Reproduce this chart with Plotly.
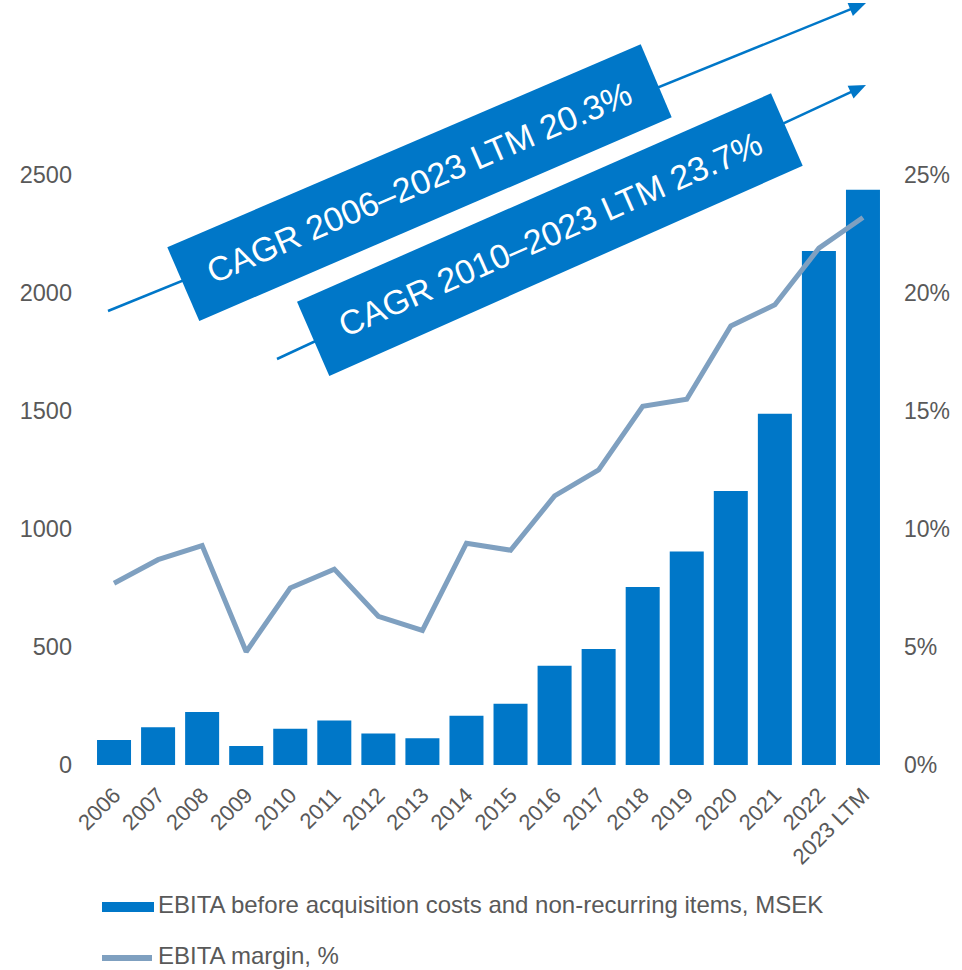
import math
import plotly.graph_objects as go

# ---- data ----
years = ["2006", "2007", "2008", "2009", "2010", "2011", "2012", "2013", "2014",
         "2015", "2016", "2017", "2018", "2019", "2020", "2021", "2022", "2023 LTM"]
ebita = [106, 160, 225, 80, 154, 189, 134, 113, 209,
         260, 421, 491, 754, 905, 1161, 1488, 2178, 2437]
margin_pct = [7.7, 8.7, 9.3, 4.8, 7.5, 8.3, 6.3, 5.7, 9.4,
              9.1, 11.4, 12.5, 15.2, 15.5, 18.6, 19.5, 21.9, 23.2]
left_ticks = [0, 500, 1000, 1500, 2000, 2500]
right_ticks = [0, 5, 10, 15, 20, 25]
bar_name = "EBITA before acquisition costs and non-recurring items, MSEK"
line_name = "EBITA margin, %"
cagr_texts = ["CAGR 2006\u20132023 LTM 20.3%", "CAGR 2010\u20132023 LTM 23.7%"]

# ---- style ----
W, H = 962, 970
L, R, T, B = 92, 77, 175, 205
BLUE = "#0077C8"
LINEC = "#7FA0C0"
GREY = "#595959"
FONT = "Arial, Liberation Sans, sans-serif"

pw, ph = W - L - R, H - T - B


def p(x, y):
    return (x - L) / pw, (H - B - y) / ph


fig = go.Figure()
fig.add_trace(go.Bar(x=years, y=ebita, name=bar_name, marker=dict(color=BLUE, line=dict(width=0)),
                     yaxis="y", showlegend=False))
fig.add_trace(go.Scatter(x=years, y=margin_pct, name=line_name, mode="lines",
                         line=dict(color=LINEC, width=5), yaxis="y2", showlegend=False))

shapes = []
annotations = []

# arrows (drawn first so boxes cover them)
arrows = [((108, 311), (866, 3)), ((277, 359), (866, 85))]
for (x0, y0), (x1, y1) in arrows:
    dx, dy = x1 - x0, y1 - y0
    n = math.hypot(dx, dy)
    ux, uy = dx / n, dy / n
    hl, hw = 17, 7
    bx, by = x1 - ux * hl, y1 - uy * hl
    a = p(x0, y0)
    b = p(bx + ux * 2, by + uy * 2)
    shapes.append(dict(type="line", xref="paper", yref="paper", x0=a[0], y0=a[1], x1=b[0], y1=b[1],
                       line=dict(color=BLUE, width=2.5)))
    pts = [(x1, y1), (bx - uy * hw, by + ux * hw), (bx + uy * hw, by - ux * hw)]
    path = "M " + " L ".join(f"{p(*q)[0]:.5f},{p(*q)[1]:.5f}" for q in pts) + " Z"
    shapes.append(dict(type="path", xref="paper", yref="paper", path=path,
                       fillcolor=BLUE, line=dict(width=0)))

boxes = [
    [(167.3, 247.3), (640.7, 44.3), (671.7, 117.3), (199.3, 321)],
    [(297, 301.7), (771, 93.3), (802.7, 165.7), (329.3, 376)],
]
angles = [-23.3, -23.8]
for i, corners in enumerate(boxes):
    path = "M " + " L ".join(f"{p(*q)[0]:.5f},{p(*q)[1]:.5f}" for q in corners) + " Z"
    shapes.append(dict(type="path", xref="paper", yref="paper", path=path,
                       fillcolor=BLUE, line=dict(width=0)))
    cx = sum(c[0] for c in corners) / 4
    cy = sum(c[1] for c in corners) / 4
    px_, py_ = p(cx, cy)
    annotations.append(dict(x=px_, y=py_, xref="paper", yref="paper", text=cagr_texts[i],
                            showarrow=False, textangle=angles[i], xanchor="center", yanchor="middle",
                            font=dict(family=FONT, size=34, color="white")))

# manual legend
r0 = p(102, 902)
r1 = p(154, 912)
shapes.append(dict(type="rect", xref="paper", yref="paper", x0=r0[0], y0=r0[1], x1=r1[0], y1=r1[1],
                   fillcolor=BLUE, line=dict(width=0)))
l0 = p(102, 958)
l1 = p(152, 958)
shapes.append(dict(type="line", xref="paper", yref="paper", x0=l0[0], y0=l0[1], x1=l1[0], y1=l1[1],
                   line=dict(color=LINEC, width=6)))
for txt, yy in [(bar_name, 904), (line_name, 955)]:
    q = p(156, yy)
    annotations.append(dict(x=q[0], y=q[1], xref="paper", yref="paper", text=txt, showarrow=False,
                            xanchor="left", yanchor="middle", font=dict(family=FONT, size=24, color=GREY)))

fig.update_layout(
    width=W, height=H,
    margin=dict(l=L, r=R, t=T, b=B),
    paper_bgcolor="white", plot_bgcolor="white",
    font=dict(family=FONT, color=GREY, size=22),
    bargap=0.228,
    xaxis=dict(type="category", tickangle=-45, tickfont=dict(size=22, color=GREY),
               showgrid=False, showline=False, zeroline=False, ticks="", ticklabelstandoff=12),
    yaxis=dict(range=[0, 2500], tickvals=left_ticks, showgrid=False, zeroline=False, showline=False,
               ticks="", tickfont=dict(size=23.5, color=GREY), ticklabelstandoff=19),
    yaxis2=dict(range=[0, 25], tickvals=right_ticks, ticktext=[f"{v}%" for v in right_ticks],
                overlaying="y", side="right", showgrid=False, zeroline=False, showline=False,
                ticks="", tickfont=dict(size=23, color=GREY), ticklabelstandoff=18),
    shapes=shapes,
    annotations=annotations,
)

fig.write_html("out.html", config={"displayModeBar": False},
               post_script="document.body.style.margin='0';document.body.style.overflow='hidden';")
